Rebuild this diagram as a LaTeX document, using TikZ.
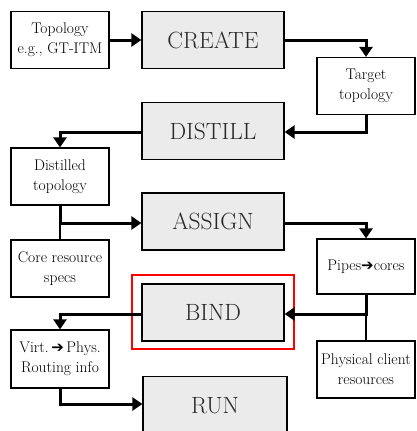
\documentclass[tikz,border=0pt]{standalone}
\usepackage{fontspec}
\newfontfamily\symfont{DejaVu Sans}
\usetikzlibrary{arrows.meta}
\definecolor{boxgray}{HTML}{EBEBEB}
\definecolor{labgray}{HTML}{282828}
\tikzset{
  small/.style={draw=black, line width=1.2pt, fill=white, inner sep=0pt,
    minimum width=98pt, minimum height=57pt, align=center,
    font=\fontsize{15.5}{20}\selectfont},
  big/.style={draw=black, line width=1.2pt, fill=boxgray, inner sep=0pt,
    minimum width=142pt, minimum height=57pt, text=labgray,
    font=\fontsize{23.5}{28}\selectfont},
  flow/.style={line width=3pt, -{Triangle[length=10pt,width=13pt]}},
  plain/.style={line width=1.8pt},
}
\newcommand{\harrow}{{\symfont\fontsize{15}{15}\selectfont ➔}}
\begin{document}
\begin{tikzpicture}[x=1pt,y=-1pt]
\useasboundingbox (0,0) rectangle (417,431);
\begin{scope}
\clip (0,0) rectangle (417,431);
% nodes
\node[small] (topo) at (60,40) {Topology\\e.g., GT-ITM};
\node[big] (create) at (213,40) {CREATE};
\node[small] (target) at (366,86) {Target\\topology};
\node[big] (distill) at (213,131) {DISTILL};
\node[small] (distilled) at (60,176.5) {Distilled\\topology};
\node[big] (assign) at (213,221.5) {ASSIGN};
\node[small] (core) at (60,268.5) {Core resource\\specs};
\node[small, minimum height=55pt] (pipes) at (366,266.5) {Pipes\harrow cores};
\node[big] (bind) at (213,312.5) {BIND};
\node[small] (phys) at (366,369.5) {Physical client\\resources};
\node[small, minimum height=58pt] (virt) at (60,359) {Virt.\,\harrow\,Phys.\\Routing info};
\node[big, minimum width=144pt, minimum height=80pt, anchor=north] (run) at (215,376) {};
\node[text=labgray, font=\fontsize{23.5}{28}\selectfont] (runlab) at (215,406) {RUN};
\draw[red, line width=2.4pt] (132,275) rectangle (294,349);
% coordinates
\coordinate (c1) at (366,40);
\coordinate (c2) at (366,132);
\coordinate (c3) at (60,132);
\coordinate (c4) at (60,223);
\coordinate (c5) at (366,223);
\coordinate (c6) at (366,314);
\coordinate (c7) at (60,314);
\coordinate (c8) at (60,404);
% connectors
\draw[flow] (topo.east) -- (create.west);
\draw[flow] (create.east |- c1) -- (c1) -- (target.north);
\draw[flow] (target.south) -- (c2) -- (distill.east |- c2);
\draw[flow] (distill.west |- c3) -- (c3) -- (distilled.north);
\draw[plain] (core.north) -- (c4);
\draw[flow] (distilled.south) -- (c4) -- (assign.west |- c4);
\draw[flow] (assign.east |- c5) -- (c5) -- (pipes.north);
\draw[plain] (phys.north) -- (c6);
\draw[flow] (pipes.south) -- (c6) -- (bind.east |- c6);
\draw[flow] (bind.west |- c7) -- (c7) -- (virt.north);
\draw[flow] (virt.south) -- (c8) -- (run.west |- c8);
\end{scope}
\end{tikzpicture}
\end{document}
